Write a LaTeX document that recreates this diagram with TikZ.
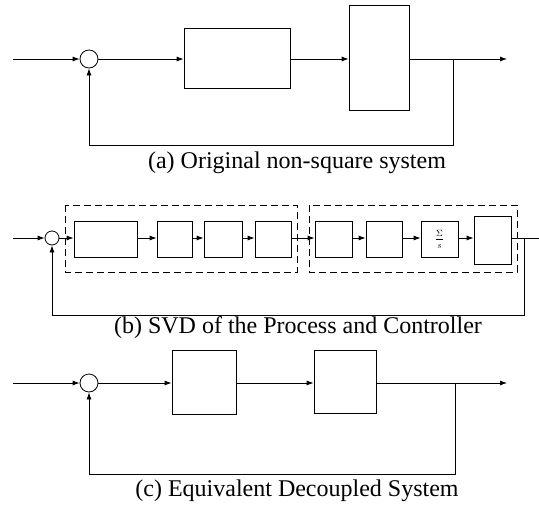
\documentclass[tikz,border=0pt]{standalone}
\usepackage{amsmath}
\usepackage{fontspec}
\setmainfont{Liberation Serif}
\usetikzlibrary{arrows.meta,positioning}

\tikzset{
  blk/.style={draw, line width=0.8pt, inner sep=0pt},
  sumnode/.style={draw, circle, line width=0.8pt, inner sep=0pt},
  sig/.style={line width=0.8pt, -{Latex[length=7pt,width=5pt]}},
  wire/.style={line width=0.8pt},
  grp/.style={draw, line width=0.9pt, dash pattern=on 7pt off 4pt},
  capt/.style={font=\fontsize{24}{28}\selectfont}
}

\begin{document}
\begin{tikzpicture}[x=1pt,y=-1pt]
  \useasboundingbox (0,0) rectangle (539,506);

  % (a) original non-square system
  \coordinate (inA) at (13,59);
  \node[sumnode, minimum size=18pt] (sumA) at (89,59) {};
  \node[blk, minimum width=106pt, minimum height=60pt] (ctrlA) at (237,58) {};
  \node[blk, minimum width=60pt, minimum height=105pt] (plantA) at (379,57.5) {};
  \coordinate (tapA) at (453,59);
  \coordinate (outA) at (507,59);
  \coordinate (fbA) at (89,145);
  \draw[sig] (inA) -- (sumA);
  \draw[sig] (sumA) -- (ctrlA.west |- sumA);
  \draw[sig] (ctrlA.east |- sumA) -- (plantA.west |- sumA);
  \draw[sig] (plantA.east |- sumA) -- (outA);
  \draw[sig] (tapA) |- (fbA) -- (sumA.south);
  \node[capt] (capA) at (297,163) {(a) Original non-square system};

  % (b) SVD of the process and controller
  \coordinate (inB) at (13,238);
  \node[sumnode, minimum size=14pt] (sumB) at (52,238) {};
  \draw[grp] (65,205) rectangle (297,272);
  \draw[grp] (309,205) rectangle (517,272);
  \node[blk, minimum width=63pt, minimum height=36pt] (b1) at (105.5,239) {};
  \node[blk, minimum width=35pt, minimum height=36pt] (b2) at (174.5,239) {};
  \node[blk, minimum width=38pt, minimum height=36pt] (b3) at (223,239) {};
  \node[blk, minimum width=36pt, minimum height=36pt] (b4) at (273,239) {};
  \node[blk, minimum width=37pt, minimum height=36pt] (b5) at (333.5,239) {};
  \node[blk, minimum width=36pt, minimum height=36pt] (b6) at (384,239) {};
  \node[blk, minimum width=37pt, minimum height=36pt] (b7) at (439.5,239)
    {\fontsize{9}{10}\selectfont$\dfrac{\Sigma}{s}$};
  \node[blk, minimum width=37pt, minimum height=48pt] (b8) at (492.5,240) {};
  \coordinate (tapB) at (524,238);
  \coordinate (outB) at (539,238);
  \coordinate (fbB) at (52,315);
  \draw[sig] (inB) -- (sumB);
  \draw[sig] (sumB) -- (b1.west |- sumB);
  \foreach \a/\b in {b1/b2,b2/b3,b3/b4,b4/b5,b5/b6,b6/b7,b7/b8}
    \draw[sig] (\a.east |- sumB) -- (\b.west |- sumB);
  \draw[wire] (b8.east |- sumB) -- (outB);
  \draw[sig] (tapB) |- (fbB) -- (sumB.south);
  \node[capt] (capB) at (298,328) {(b) SVD of the Process and Controller};

  % (c) equivalent decoupled system
  \coordinate (inC) at (13,383);
  \node[sumnode, minimum size=18pt] (sumC) at (89,383) {};
  \node[blk, minimum width=64pt, minimum height=64pt] (c1) at (204,382) {};
  \node[blk, minimum width=62pt, minimum height=63pt] (c2) at (345,381.5) {};
  \coordinate (tapC) at (455,383);
  \coordinate (outC) at (507,383);
  \coordinate (fbC) at (89,474);
  \draw[sig] (inC) -- (sumC);
  \draw[sig] (sumC) -- (c1.west |- sumC);
  \draw[sig] (c1.east |- sumC) -- (c2.west |- sumC);
  \draw[sig] (c2.east |- sumC) -- (outC);
  \draw[sig] (tapC) |- (fbC) -- (sumC.south);
  \node[capt] (capC) at (297,491) {(c) Equivalent Decoupled System};
\end{tikzpicture}
\end{document}
